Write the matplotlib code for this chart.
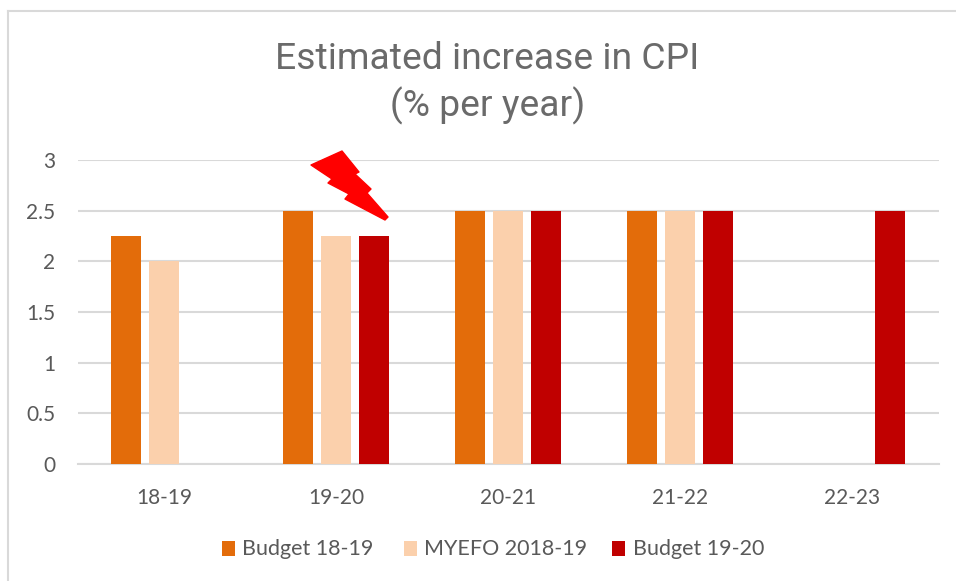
import matplotlib
matplotlib.use("Agg")
import matplotlib.pyplot as plt
from matplotlib.patches import Polygon, Rectangle
from matplotlib.lines import Line2D
import numpy as np

categories = ["18-19", "19-20", "20-21", "21-22", "22-23"]
budget_1819 = [2.25, 2.5, 2.5, 2.5, np.nan]
myefo_1819 = [2.0, 2.25, 2.5, 2.5, np.nan]
budget_1920 = [np.nan, 2.25, 2.5, 2.5, 2.5]
series_names = ["Budget 18-19", "MYEFO 2018-19", "Budget 19-20"]
series_colors = ["#E36C0A", "#FBD0AC", "#C00000"]
yticks = [0, 0.5, 1, 1.5, 2, 2.5, 3]
ytick_labels = ["0", "0.5", "1", "1.5", "2", "2.5", "3"]

W, H = 956, 581
plt.rcParams["font.family"] = ["Lato", "DejaVu Sans"]
fig = plt.figure(figsize=(W / 100, H / 100), dpi=100, facecolor="white")
TXT = "#595959"
GRID = "#D9D9D9"


def fx(x):
    return x / W


def fy(y):
    return 1 - y / H


ax = fig.add_axes([fx(78), fy(464), 860.5 / W, (464 - 160) / H])
ax.set_xlim(-0.5, 4.5)
ax.set_ylim(0, 3)
x = np.arange(len(categories))
width = 30 / 172.1
step = 38 / 172.1
for i, (vals, col) in enumerate(zip([budget_1819, myefo_1819, budget_1920], series_colors)):
    ax.bar(x + (i - 1) * step, vals, width, color=col, zorder=3)

ax.set_yticks(yticks, ytick_labels)
ax.set_xticks(x, categories)
ax.tick_params(length=0, labelsize=15, labelcolor=TXT)
ax.tick_params(axis="x", pad=17)
ax.tick_params(axis="y", pad=16.5)
ax.grid(axis="y", color=GRID, lw=1.5, zorder=0)
ax.set_axisbelow(True)
for s in ["top", "right", "left"]:
    ax.spines[s].set_visible(False)
ax.spines["bottom"].set_color(GRID)
ax.spines["bottom"].set_linewidth(1.5)

fig.text(fx(487.5), fy(59), "Estimated increase in CPI", ha="center", va="center",
         fontsize=26.8, color="#6A6A6A", family=["Roboto", "DejaVu Sans"])
fig.text(fx(488), fy(106), "(% per year)", ha="center", va="center",
         fontsize=26.8, color="#6A6A6A", family=["Roboto", "DejaVu Sans"])

# chart frame
fig.add_artist(Line2D([fx(8), fx(8)], [fy(580), fy(11)], color=GRID, lw=1.5))
fig.add_artist(Line2D([fx(8), fx(956)], [fy(11), fy(11)], color=GRID, lw=1.5))

# lightning bolt
bolt_px = [(311, 165), (342, 151), (359, 172), (355, 174), (371, 189), (367, 193),
           (388, 217), (385, 220), (345, 199), (349, 194), (328, 183), (332, 179)]
fig.add_artist(Polygon([(fx(a), fy(b)) for a, b in bolt_px], closed=True, facecolor="#FF0000",
                       edgecolor="#FF0000", lw=1, joinstyle="round",
                       transform=fig.transFigure, zorder=5))

# legend
for sx, tx, name, col in zip([222, 404, 612], [242, 424, 633], series_names, series_colors):
    fig.add_artist(Rectangle((fx(sx), fy(556)), 13 / W, 15 / H, facecolor=col, edgecolor="none",
                             transform=fig.transFigure))
    fig.text(fx(tx), fy(549), name, ha="left", va="center", fontsize=15.5, color=TXT)

fig.savefig("out.png", dpi=100)
